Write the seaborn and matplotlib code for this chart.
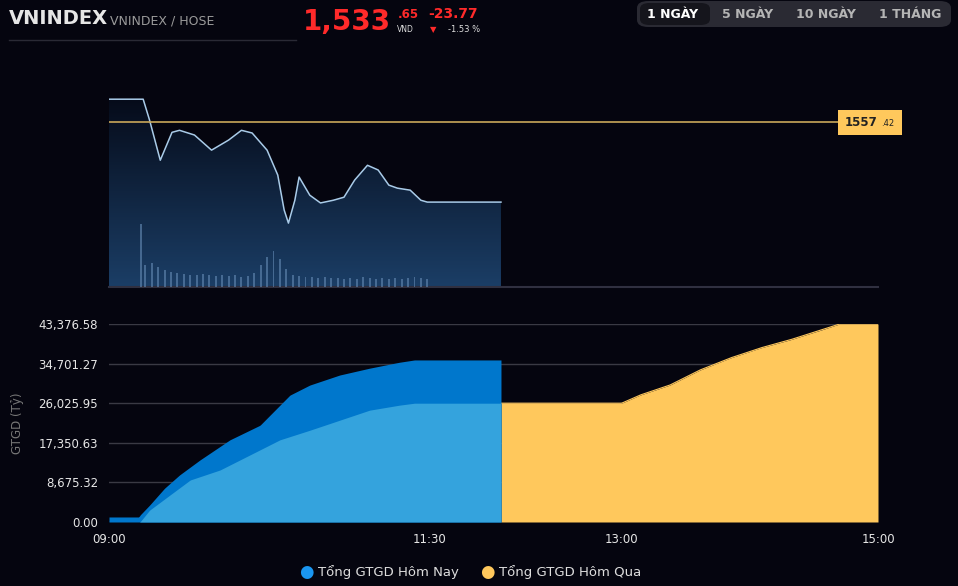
import numpy as np
import pandas as pd
import matplotlib
matplotlib.use("Agg")
import matplotlib.pyplot as plt
import seaborn as sns
from matplotlib.patches import FancyBboxPatch, Polygon, Rectangle

# ---- data ----
price_min = [0, 16, 19, 24, 29.5, 33, 40, 48, 56, 62, 67, 74, 79, 82, 84, 87, 89, 94, 99, 105,
             110, 115, 121, 126, 131, 135, 141, 146, 149, 183.5]
price_val = [1564.25, 1564.25, 1558.0, 1546.1, 1554.4, 1555.0, 1553.6, 1549.1, 1552.1, 1555.0,
             1554.2, 1549.1, 1541.7, 1531.3, 1527.4, 1534.2, 1541.1, 1535.7, 1533.4, 1534.2,
             1535.1, 1540.2, 1544.6, 1543.2, 1538.7, 1537.8, 1537.2, 1534.2, 1533.65, 1533.65]
ref_price = 1557.42
vol_min = [15] + list(range(17, 150, 3))
vol_val = [63, 22, 24, 20, 17, 15, 14, 13, 12, 12, 13, 12, 11, 12, 11, 12, 10, 11, 14, 22, 30, 36, 28,
           18, 12, 11, 10, 10, 9, 10, 9, 9, 8, 9, 8, 10, 9, 8, 9, 8, 9, 8, 9, 10, 9, 8]

today_min = [0, 14, 14.5, 19, 26, 33, 42.6, 56.6, 70.7, 77.7, 84.7, 94, 108, 122, 136, 143, 183.5]
today_val = [1100, 1100, 1500, 3700, 7400, 10300, 13600, 18000, 21200, 24500, 27800, 30000,
             32200, 33700, 35000, 35500, 35500]
yest_min = [0, 14.5, 19, 28.5, 38, 52, 66, 80, 94, 108, 122, 136, 143, 240, 248.6, 262.6,
            276.7, 290.7, 304.8, 318.8, 333, 342, 360]
yest_val = [0, 0, 2600, 5900, 9200, 11400, 14700, 18000, 20100, 22300, 24500, 25600, 26025.95,
            26025.95, 27800, 30000, 33300, 35900, 38100, 39900, 42000, 43376.58, 43376.58]
split_min = 183.5
yticks = [0.00, 8675.32, 17350.63, 26025.95, 34701.27, 43376.58]
xticks = [0, 150, 240, 360]
xlabels = ["09:00", "11:30", "13:00", "15:00"]

BG = "#05050f"
W, H = 958, 586
fig = plt.figure(figsize=(W / 100, H / 100), dpi=100, facecolor=BG)

def ax_rect(x0, y0, x1, y1):
    return [x0 / W, 1 - y1 / H, (x1 - x0) / W, (y1 - y0) / H]

# ---- header ----
fig.text(9 / W, 1 - 19 / H, "VNINDEX", color="#e6e6e6", fontsize=14, fontweight="bold", va="center")
fig.text(110 / W, 1 - 21 / H, "VNINDEX / HOSE", color="#9a9a9a", fontsize=9, va="center")
fig.add_artist(plt.Line2D([9 / W, 296 / W], [1 - 40 / H] * 2, color="#2a2a35", lw=1))
fig.text(303 / W, 1 - 22 / H, "1,533", color="#ff2a2a", fontsize=20, fontweight="bold", va="center")
fig.text(398 / W, 1 - 14 / H, ".65", color="#ff2a2a", fontsize=8.5, fontweight="bold", va="center")
fig.text(397 / W, 1 - 30 / H, "VND", color="#dddddd", fontsize=5.5, va="center")
fig.text(428 / W, 1 - 14 / H, "-23.77", color="#ff2a2a", fontsize=10, fontweight="bold", va="center")
fig.text(430 / W, 1 - 30 / H, "▼", color="#ff2a2a", fontsize=6, va="center")
fig.text(448 / W, 1 - 30 / H, "-1.53 %", color="#dddddd", fontsize=6, va="center")
fig.add_artist(FancyBboxPatch((637 / W, 1 - 27 / H), 314 / W, 26 / H, boxstyle="round,pad=0,rounding_size=0.012",
                              fc="#2a2a33", ec="none", transform=fig.transFigure))
fig.add_artist(FancyBboxPatch((640 / W, 1 - 25 / H), 70 / W, 22 / H, boxstyle="round,pad=0,rounding_size=0.01",
                              fc="#15151c", ec="none", transform=fig.transFigure))
for lbl, cx, col in [("1 NGÀY", 673, "#ffffff"), ("5 NGÀY", 748, "#b5b5b5"),
                     ("10 NGÀY", 826, "#b5b5b5"), ("1 THÁNG", 910, "#b5b5b5")]:
    fig.text(cx / W, 1 - 14 / H, lbl, color=col, fontsize=9, fontweight="bold", ha="center", va="center")

# ---- top chart ----
ax1 = fig.add_axes(ax_rect(109, 95, 878, 287))
ax1.set_facecolor(BG)
ylo, yhi = 1508.4, 1565.5
ax1.set_xlim(0, 360)
ax1.set_ylim(ylo, yhi)
grad = np.linspace(0, 1, 256).reshape(-1, 1)
cmap = matplotlib.colors.LinearSegmentedColormap.from_list("g", ["#1b3e66", "#050a18"])
im = ax1.imshow(grad, extent=[0, split_min, ylo, yhi], origin="lower", cmap=cmap, aspect="auto", zorder=1)
poly = Polygon(list(zip(price_min, price_val)) + [(split_min, ylo), (0, ylo)], closed=True,
               transform=ax1.transData, fc="none", ec="none")
ax1.add_patch(poly)
im.set_clip_path(poly)
axv = ax1.twinx()
axv.set_ylim(0, 192)
axv.bar(vol_min, vol_val, width=0.9, color="#5a7fa8", alpha=0.7, zorder=2)
axv.axis("off")
df_p = pd.DataFrame({"t": price_min, "p": price_val})
sns.lineplot(data=df_p, x="t", y="p", ax=ax1, color="#a9cbe8", lw=1.1, zorder=3)
ax1.axhline(ref_price, color="#c9a85a", lw=1.2, zorder=4)
ax1.plot([0, 360], [ylo, ylo], color="#303040", lw=1.5, clip_on=False)
ax1.axis("off")
fig.add_artist(Rectangle((838 / W, 1 - 135 / H), 64 / W, 25 / H, fc="#ffc85c", ec="none",
                         transform=fig.transFigure))
fig.text(845 / W, 1 - 122 / H, "1557", color="#222222", fontsize=8.5, fontweight="bold", va="center")
fig.text(881 / W, 1 - 124 / H, ".42", color="#222222", fontsize=6, va="center")

# ---- bottom chart ----
ax2 = fig.add_axes(ax_rect(109, 324, 878, 522))
ax2.set_facecolor(BG)
ax2.set_xlim(0, 360)
ax2.set_ylim(0, 43376.58)
for yv in yticks:
    ax2.axhline(yv, color="#3a3a44", lw=1, zorder=0)
xs = np.linspace(split_min, 360, 400)
ax2.fill_between(xs, np.interp(xs, yest_min, yest_val), color="#ffc85c", lw=0, zorder=1)
xt = np.linspace(0, split_min, 400)
ax2.fill_between(xt, np.interp(xt, today_min, today_val), color="#0077cc", lw=0, zorder=2)
ax2.fill_between(xt, np.interp(xt, yest_min, yest_val), color="#34a3dd", lw=0, zorder=3)
sns.lineplot(x=xs, y=np.interp(xs, yest_min, yest_val), ax=ax2, color="#ffc85c", lw=0.8, zorder=1)
ax2.set_yticks(yticks)
ax2.set_yticklabels([f"{v:,.2f}" for v in yticks], color="#e6e6e6", fontsize=8.5)
ax2.set_xticks(xticks)
ax2.set_xticklabels(xlabels, color="#e6e6e6", fontsize=8.5)
ax2.tick_params(length=0, pad=8)
for s in ax2.spines.values():
    s.set_visible(False)
ax2.set_ylabel("GTGD (Tỷ)", color="#777777", fontsize=8.5, labelpad=10)
ax2.set_xlabel("")

# legend
fig.text(306 / W, 1 - 572 / H, "●", color="#1a96f0", fontsize=12, ha="center", va="center")
fig.text(318 / W, 1 - 572 / H, "Tổng GTGD Hôm Nay", color="#dddddd", fontsize=9.5, va="center")
fig.text(487 / W, 1 - 572 / H, "●", color="#ffc85c", fontsize=12, ha="center", va="center")
fig.text(499 / W, 1 - 572 / H, "Tổng GTGD Hôm Qua", color="#dddddd", fontsize=9.5, va="center")

fig.savefig("out.png", dpi=100, facecolor=BG)
